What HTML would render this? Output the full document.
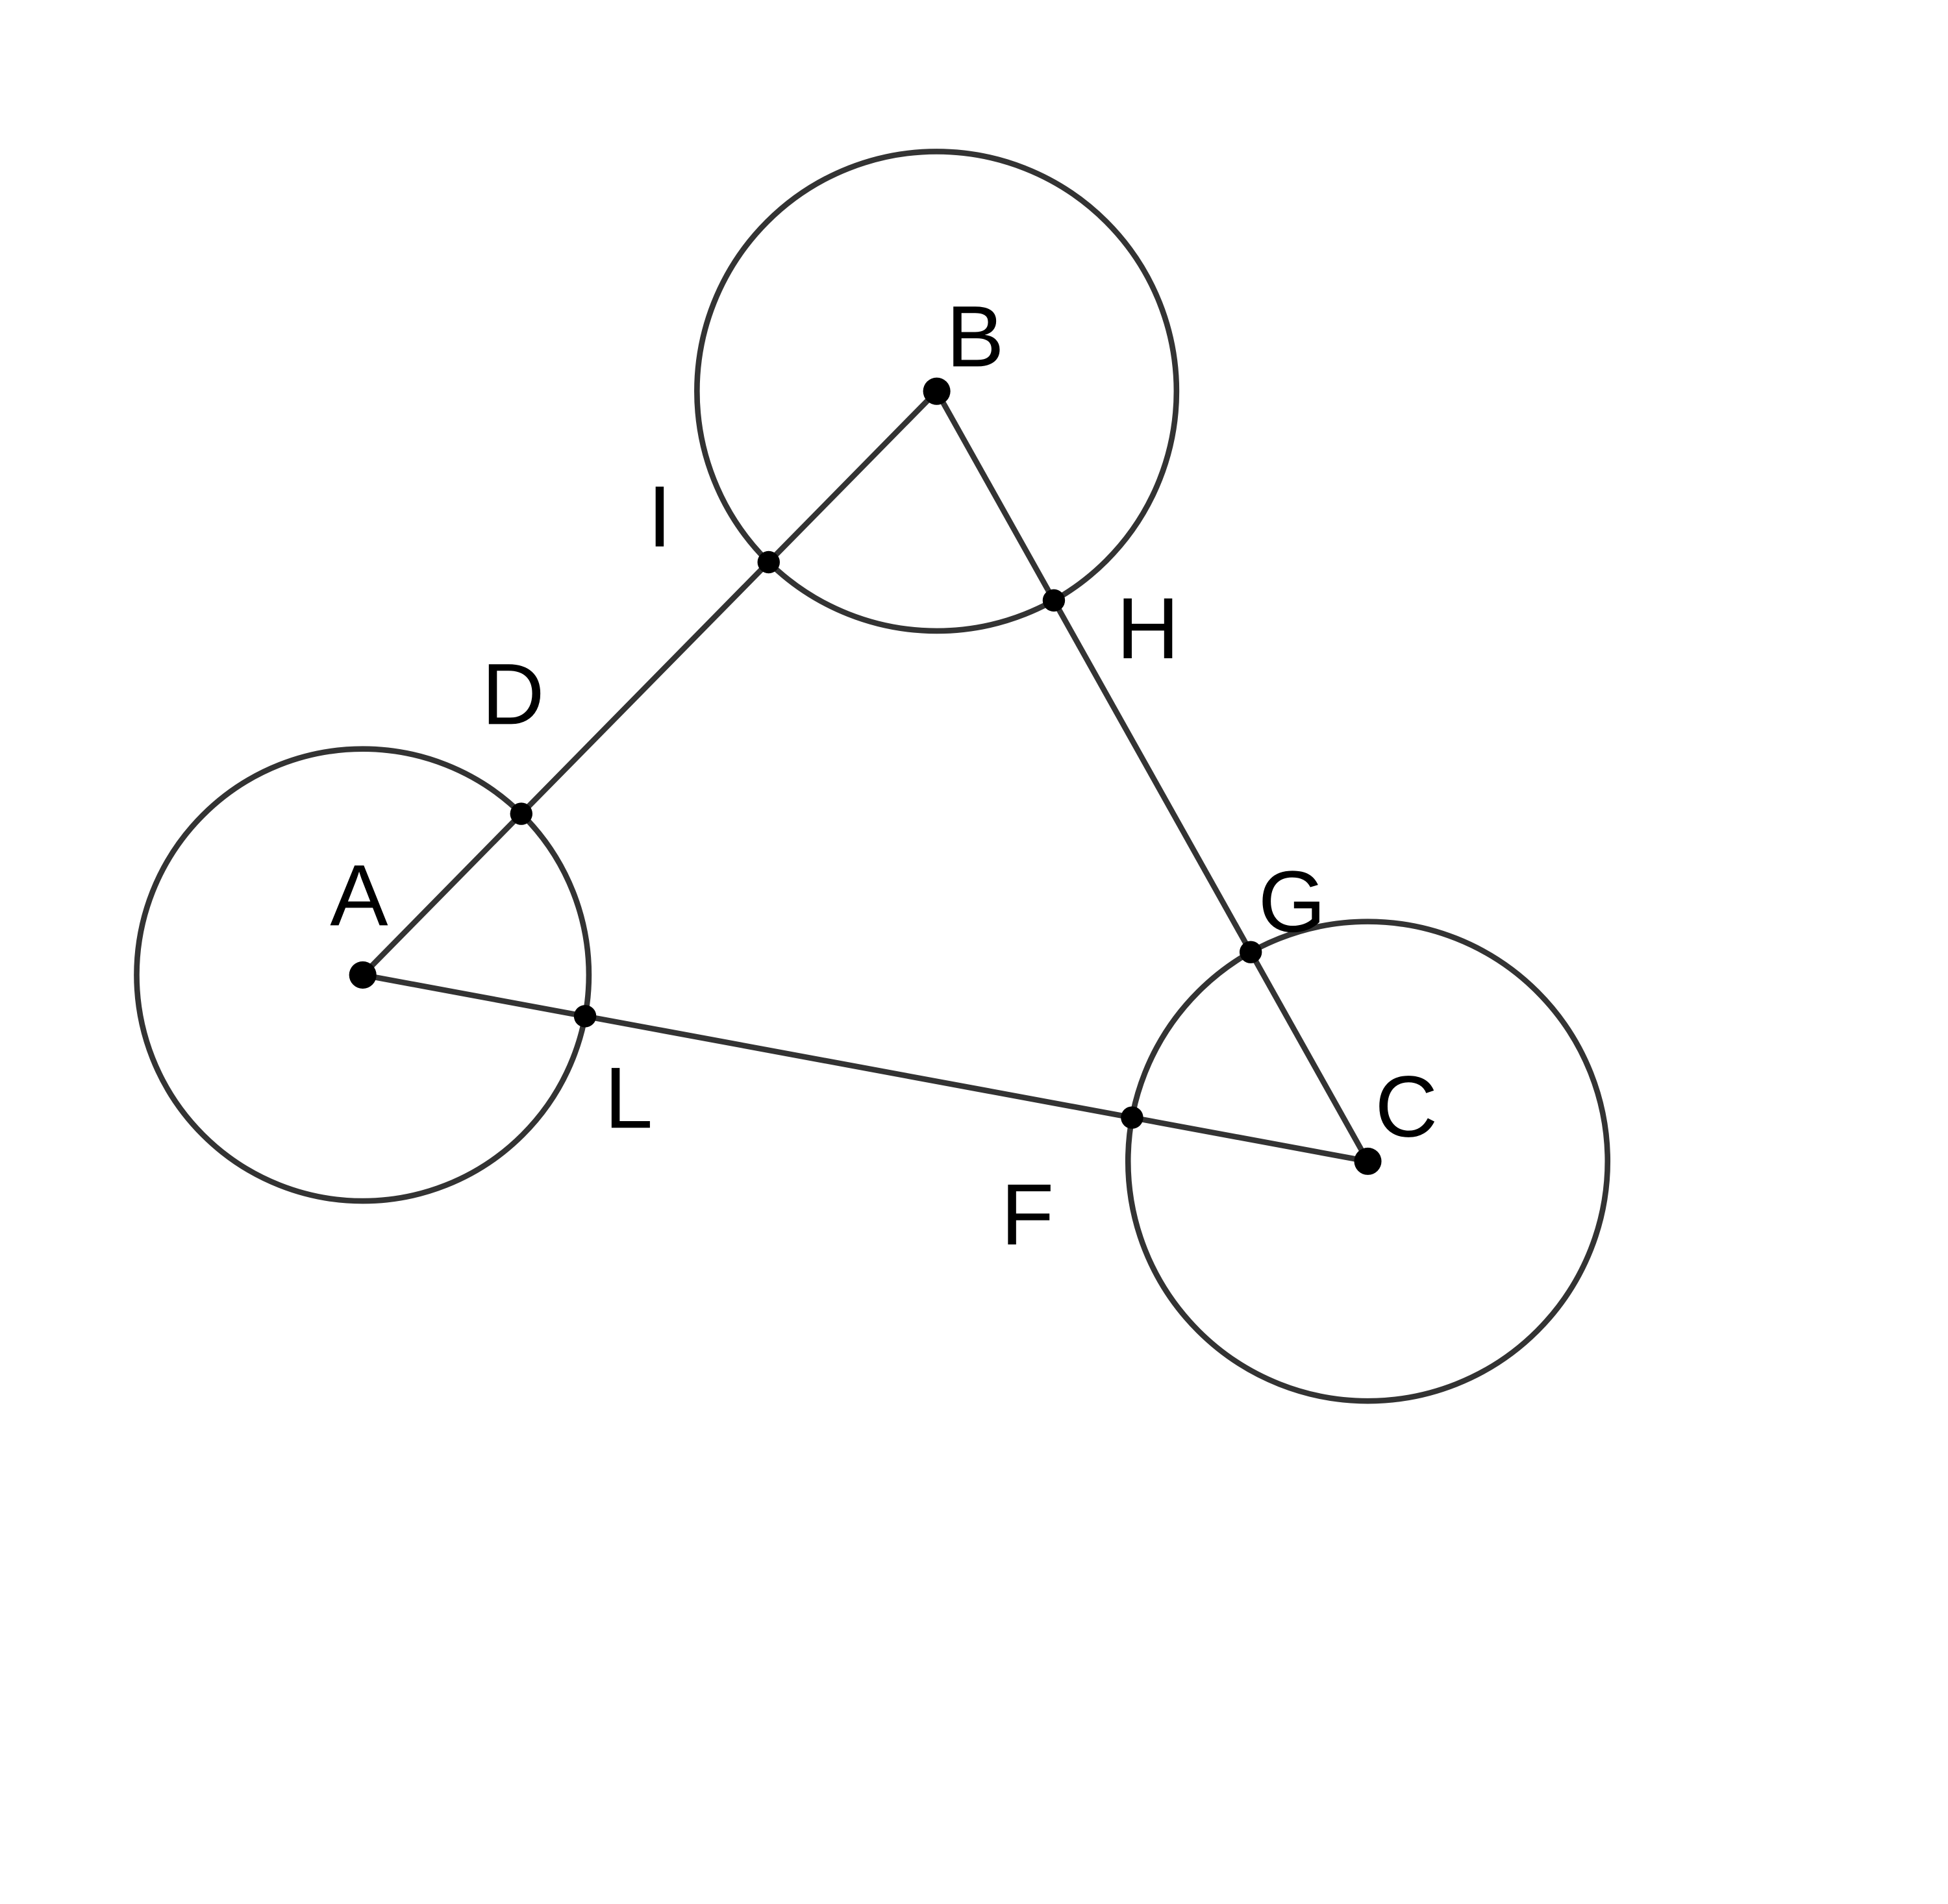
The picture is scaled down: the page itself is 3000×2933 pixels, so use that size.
<!DOCTYPE html>
<html>
<head>
<meta charset="utf-8">
<style>
html,body{margin:0;padding:0;background:#fff;}
svg{display:block;}
text{font-family:"Liberation Sans","DejaVu Sans",sans-serif;font-size:70px;fill:#000;text-anchor:middle;}
</style>
</head>
<body>
<svg id="fig" width="3000" height="2933" viewBox="0 0 1568 1533" xmlns="http://www.w3.org/2000/svg">
</svg>
<script>
const centerNames = ["A","B","C"];
const centerX = [292, 754, 1101];
const centerY = [785, 315, 935];
const radii = [182, 193, 193];
const segFrom = [0, 1, 2];
const segTo = [1, 2, 0];
const nearLabels = ["D","H","F"];
const farLabels = ["I","G","L"];
const labelText = ["A","B","C","D","I","H","G","F","L"];
const labelX = [289, 785, 1132, 413, 531, 924, 1040, 827, 506];
const labelY = [745, 295, 915, 583, 440, 530, 750, 1002, 908];

const svg = document.getElementById('fig');
const NS = "http://www.w3.org/2000/svg";
function mk(tag, attrs){const e=document.createElementNS(NS,tag);for(const k in attrs)e.setAttribute(k,attrs[k]);svg.appendChild(e);return e;}

for(let i=0;i<3;i++){
  const c=mk('circle',{cx:centerX[i],cy:centerY[i],r:radii[i],fill:'none',stroke:'#333',"stroke-width":4.5});
  
  
}
const dots=[];
for(let s=0;s<3;s++){
  const a=segFrom[s], b=segTo[s];
  const l=mk('line',{x1:centerX[a],y1:centerY[a],x2:centerX[b],y2:centerY[b],stroke:'#333',"stroke-width":4.5});
  
  
  const dx=centerX[b]-centerX[a], dy=centerY[b]-centerY[a], L=Math.hypot(dx,dy);
  dots.push([centerX[a]+radii[a]*dx/L, centerY[a]+radii[a]*dy/L, farLabels[(s+2)%3]]);
  dots.push([centerX[b]-radii[b]*dx/L, centerY[b]-radii[b]*dy/L, nearLabels[s]]);
}
for(const d of dots){
  const c=mk('circle',{cx:d[0],cy:d[1],r:9,fill:'#000'});
  
  
}
for(let i=0;i<3;i++){
  const c=mk('circle',{cx:centerX[i],cy:centerY[i],r:11,fill:'#000'});
  
  
}
for(let i=0;i<labelText.length;i++){
  const t=mk('text',{x:labelX[i],y:labelY[i]});
  t.textContent=labelText[i];
  
  
}
</script>
</body>
</html>
